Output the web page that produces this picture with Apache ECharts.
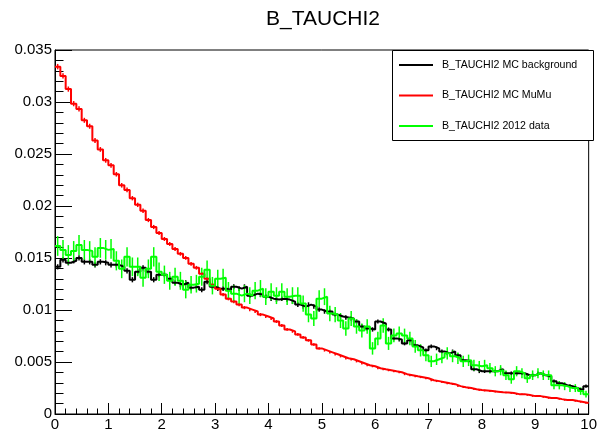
<!DOCTYPE html>
<html>
<head>
<meta charset="utf-8">
<script src="https://cdn.jsdelivr.net/npm/echarts@6/dist/echarts.min.js"></script>
<style>html,body{margin:0;padding:0;background:#fff;}#c{width:600px;height:432px;}</style>
</head>
<body>
<div id="c"></div>
<script>
const chartTitle = 'B_TAUCHI2';
const seriesNames = ['B_TAUCHI2 MC background', 'B_TAUCHI2 MC MuMu', 'B_TAUCHI2 2012 data'];
const binWidth = 0.1;
const xTickLabels = ['0','1','2','3','4','5','6','7','8','9','10'];
const yTickLabels = ['0','0.005','0.01','0.015','0.02','0.025','0.03','0.035'];

const bgMC = [
0.01415,0.01482,0.01454,0.01473,0.01501,0.01463,0.01463,0.01434,0.01463,0.01454,
0.01434,0.01434,0.01415,0.01377,0.01291,0.01368,0.01406,0.01368,0.01291,0.01339,
0.01339,0.01301,0.01262,0.01243,0.01262,0.01215,0.01224,0.01195,0.01272,0.01224,
0.01205,0.01205,0.01195,0.01224,0.01205,0.01224,0.01138,0.01157,0.01148,0.01128,
0.01109,0.01100,0.01109,0.01100,0.01081,0.01052,0.01033,0.01052,0.01033,0.01004,
0.00985,0.00985,0.00956,0.00937,0.00928,0.00918,0.00889,0.00842,0.00822,0.00813,
0.00889,0.00870,0.00813,0.00727,0.00717,0.00679,0.00708,0.00660,0.00641,0.00612,
0.00650,0.00631,0.00602,0.00583,0.00602,0.00564,0.00516,0.00507,0.00430,0.00411,
0.00411,0.00411,0.00411,0.00430,0.00392,0.00392,0.00392,0.00392,0.00373,0.00373,
0.00392,0.00373,0.00363,0.00316,0.00296,0.00277,0.00268,0.00249,0.00230,0.00268
];
const mumuMC = [
0.03340,0.03251,0.03124,0.02984,0.02933,0.02824,0.02767,0.02630,0.02544,0.02439,
0.02391,0.02305,0.02199,0.02155,0.02075,0.02011,0.01954,0.01865,0.01798,0.01740,
0.01683,0.01635,0.01587,0.01540,0.01501,0.01444,0.01406,0.01348,0.01301,0.01243,
0.01205,0.01148,0.01109,0.01081,0.01052,0.01023,0.01004,0.00985,0.00956,0.00937,
0.00918,0.00889,0.00851,0.00813,0.00794,0.00765,0.00736,0.00708,0.00669,0.00631,
0.00612,0.00593,0.00574,0.00555,0.00536,0.00526,0.00507,0.00488,0.00469,0.00459,
0.00440,0.00430,0.00421,0.00411,0.00402,0.00383,0.00373,0.00363,0.00354,0.00344,
0.00325,0.00316,0.00306,0.00296,0.00287,0.00268,0.00258,0.00249,0.00239,0.00230,
0.00225,0.00220,0.00215,0.00210,0.00206,0.00201,0.00191,0.00191,0.00182,0.00172,
0.00172,0.00163,0.00153,0.00153,0.00143,0.00134,0.00134,0.00124,0.00115,0.00105
];
const data2012 = [
0.01616,0.01578,0.01530,0.01568,0.01626,0.01578,0.01568,0.01511,0.01597,0.01578,
0.01587,0.01473,0.01396,0.01511,0.01415,0.01415,0.01310,0.01396,0.01511,0.01368,
0.01339,0.01281,0.01320,0.01281,0.01195,0.01243,0.01253,0.01320,0.01387,0.01234,
0.01301,0.01310,0.01186,0.01157,0.01138,0.01157,0.01138,0.01186,0.01205,0.01128,
0.01176,0.01138,0.01176,0.01128,0.01138,0.01138,0.01062,0.00956,0.00918,0.01109,
0.01128,0.00966,0.00956,0.00899,0.00822,0.00918,0.00842,0.00803,0.00842,0.00631,
0.00727,0.00851,0.00679,0.00755,0.00775,0.00755,0.00727,0.00650,0.00612,0.00564,
0.00507,0.00526,0.00545,0.00583,0.00555,0.00536,0.00507,0.00516,0.00469,0.00459,
0.00469,0.00440,0.00411,0.00421,0.00373,0.00335,0.00411,0.00392,0.00344,0.00373,
0.00392,0.00373,0.00373,0.00277,0.00277,0.00268,0.00249,0.00249,0.00220,0.00191
];
const bgErr = [
0.00025,0.00025,0.00025,0.00025,0.00025,0.00025,0.00025,0.00025,0.00025,0.00025,
0.00025,0.00025,0.00025,0.00025,0.00025,0.00025,0.00025,0.00025,0.00025,0.00025,
0.00024,0.00024,0.00024,0.00024,0.00024,0.00024,0.00024,0.00024,0.00024,0.00024,
0.00023,0.00023,0.00023,0.00023,0.00023,0.00023,0.00023,0.00023,0.00023,0.00023,
0.00022,0.00022,0.00022,0.00022,0.00022,0.00022,0.00022,0.00022,0.00022,0.00022,
0.00021,0.00021,0.00021,0.00021,0.00021,0.00021,0.00021,0.00021,0.00021,0.00021,
0.00019,0.00019,0.00019,0.00019,0.00019,0.00019,0.00019,0.00019,0.00019,0.00019,
0.00018,0.00018,0.00018,0.00018,0.00018,0.00018,0.00018,0.00018,0.00018,0.00018,
0.00017,0.00017,0.00017,0.00017,0.00017,0.00017,0.00017,0.00017,0.00017,0.00017,
0.00016,0.00016,0.00016,0.00016,0.00016,0.00016,0.00016,0.00016,0.00016,0.00016
];
const mumuErr = [
0.00026,0.00026,0.00025,0.00025,0.00025,0.00024,0.00024,0.00024,0.00023,0.00023,
0.00023,0.00022,0.00022,0.00022,0.00021,0.00021,0.00021,0.00020,0.00020,0.00020,
0.00019,0.00019,0.00019,0.00018,0.00018,0.00018,0.00018,0.00017,0.00017,0.00017,
0.00016,0.00016,0.00016,0.00016,0.00015,0.00015,0.00015,0.00015,0.00015,0.00014,
0.00014,0.00014,0.00014,0.00013,0.00013,0.00013,0.00013,0.00013,0.00012,0.00012,
0.00012,0.00012,0.00012,0.00011,0.00011,0.00011,0.00011,0.00011,0.00011,0.00010,
0.00010,0.00010,0.00010,0.00010,0.00010,0.00010,0.00009,0.00009,0.00009,0.00009,
0.00009,0.00009,0.00009,0.00009,0.00008,0.00008,0.00008,0.00008,0.00008,0.00008,
0.00008,0.00008,0.00008,0.00008,0.00007,0.00007,0.00007,0.00007,0.00007,0.00007,
0.00007,0.00007,0.00007,0.00007,0.00006,0.00006,0.00006,0.00006,0.00006,0.00006
];
const dataErr = [
0.00095,0.00095,0.00094,0.00095,0.00096,0.00095,0.00094,0.00093,0.00095,0.00095,
0.00095,0.00092,0.00090,0.00093,0.00090,0.00090,0.00087,0.00090,0.00093,0.00089,
0.00088,0.00086,0.00087,0.00086,0.00083,0.00085,0.00085,0.00087,0.00089,0.00084,
0.00087,0.00087,0.00083,0.00082,0.00081,0.00082,0.00081,0.00083,0.00083,0.00081,
0.00082,0.00081,0.00082,0.00081,0.00081,0.00081,0.00078,0.00074,0.00073,0.00080,
0.00081,0.00075,0.00074,0.00072,0.00069,0.00073,0.00070,0.00068,0.00070,0.00060,
0.00065,0.00070,0.00063,0.00066,0.00067,0.00066,0.00065,0.00061,0.00059,0.00057,
0.00054,0.00055,0.00056,0.00058,0.00057,0.00056,0.00054,0.00055,0.00052,0.00051,
0.00052,0.00050,0.00049,0.00049,0.00046,0.00044,0.00049,0.00048,0.00045,0.00046,
0.00048,0.00046,0.00046,0.00040,0.00040,0.00039,0.00038,0.00038,0.00036,0.00033
];

const colors = ['#000000', '#ff0000', '#00ff00'];
const FONT = 'Liberation Sans, Arial, Helvetica, sans-serif';

function stepData(vals) {
  const pts = vals.map((v, i) => [i * binWidth, v]);
  pts.push([vals.length * binWidth, vals[vals.length - 1]]);
  return pts;
}
function errData(vals, errs) {
  return vals.map((v, i) => [(i + 0.5) * binWidth, v, errs[i]]);
}
function errSeries(name, vals, errs, color, lw) {
  return {
    name: name, type: 'custom', silent: true, animation: false, clip: true,
    data: errData(vals, errs),
    encode: { x: 0, y: 1 },
    renderItem: function (params, api) {
      const x = api.value(0), v = api.value(1), e = api.value(2);
      const p1 = api.coord([x, v - e]);
      const p2 = api.coord([x, v + e]);
      return { type: 'line', shape: { x1: p1[0], y1: p1[1], x2: p2[0], y2: p2[1] },
        style: { stroke: color, lineWidth: lw } };
    }
  };
}
function lineSeries(name, vals, color) {
  return {
    name: name, type: 'line', step: 'end', symbol: 'none', showSymbol: false,
    animation: false, silent: true, data: stepData(vals),
    lineStyle: { color: color, width: 2 }, itemStyle: { color: color }
  };
}

const chart = echarts.init(document.getElementById('c'), null, { renderer: 'canvas' });
chart.setOption({
  backgroundColor: '#ffffff',
  animation: false,
  title: {
    text: chartTitle, left: 323, top: 9, textAlign: 'center', padding: 0,
    textStyle: { fontFamily: FONT, fontSize: 21, fontWeight: 'normal', color: '#000' }
  },
  grid: { left: 55, right: 8, top: 50, bottom: 16, show: true, borderColor: '#000', borderWidth: 1, backgroundColor: 'transparent' },
  xAxis: {
    type: 'value', min: 0, max: 10, interval: 1,
    axisLine: { show: true, onZero: false, lineStyle: { color: '#000', width: 1 } },
    axisTick: { show: true, inside: true, length: 11, lineStyle: { color: '#000', width: 1 } },
    minorTick: { show: true, splitNumber: 5, length: 5.5, lineStyle: { color: '#000', width: 1 } },
    splitLine: { show: false },
    axisLabel: { fontFamily: FONT, fontSize: 15, color: '#000', margin: 3,
      formatter: function (v) { return xTickLabels[Math.round(v)]; } }
  },
  yAxis: {
    type: 'value', min: 0, max: 0.035, interval: 0.005,
    axisLine: { show: true, lineStyle: { color: '#000', width: 1 } },
    axisTick: { show: true, inside: true, length: 17, lineStyle: { color: '#000', width: 1 } },
    minorTick: { show: true, splitNumber: 5, length: 8.5, lineStyle: { color: '#000', width: 1 } },
    splitLine: { show: false },
    axisLabel: { fontFamily: FONT, fontSize: 15, color: '#000', margin: 3,
      formatter: function (v) { return yTickLabels[Math.round(v / 0.005)]; } }
  },
  legend: {
    data: seriesNames, orient: 'vertical', left: 399, top: 58, padding: 0,
    icon: 'rect', itemWidth: 34, itemHeight: 2, itemGap: 16.5,
    textStyle: { fontFamily: FONT, fontSize: 10.6, color: '#000', lineHeight: 14, padding: [0, 0, 0, 4] },
    selectedMode: false
  },
  graphic: [{
    type: 'rect', left: 392, top: 50, z: 0, zlevel: 0,
    shape: { width: 201, height: 90 },
    style: { fill: '#fff', stroke: '#000', lineWidth: 1 }
  }],
  series: [
    lineSeries(seriesNames[0], bgMC, colors[0]),
    errSeries('bgErr', bgMC, bgErr, colors[0], 1.5),
    lineSeries(seriesNames[1], mumuMC, colors[1]),
    errSeries('mumuErr', mumuMC, mumuErr, colors[1], 1.5),
    lineSeries(seriesNames[2], data2012, colors[2]),
    errSeries('dataErr', data2012, dataErr, colors[2], 1.5)
  ]
});
</script>
</body>
</html>
